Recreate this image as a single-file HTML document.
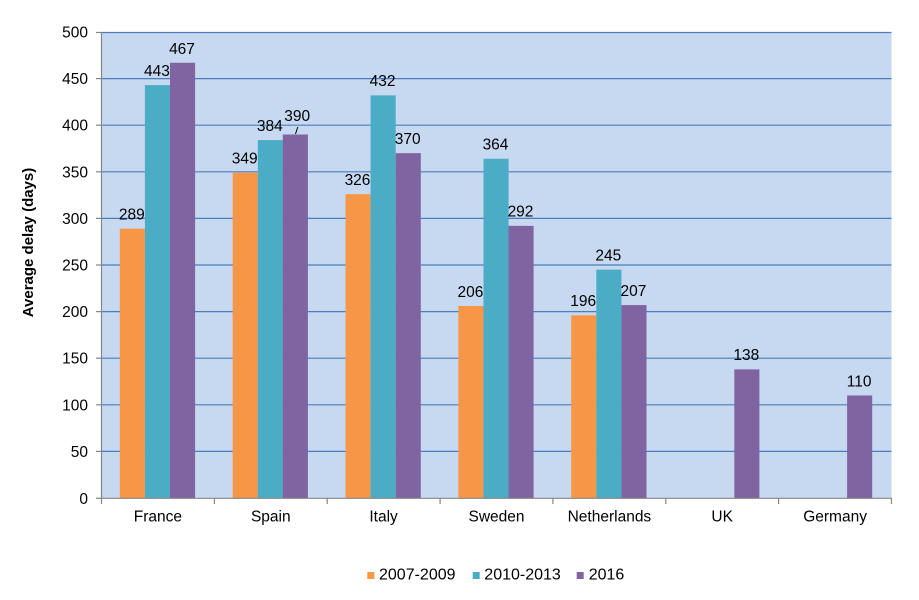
<!DOCTYPE html>
<html>
<head>
<meta charset="utf-8">
<style>
html,body{margin:0;padding:0;background:#fff;}
svg{display:block;}
text{font-family:"Liberation Sans",Arial,sans-serif;fill:#000;}
</style>
</head>
<body>
<svg width="919" height="600" viewBox="0 0 919 600" xmlns="http://www.w3.org/2000/svg">
  <rect x="0" y="0" width="919" height="600" fill="#fff"/>
  <!-- plot area -->
  <rect x="101.5" y="32" width="790" height="466" fill="#c6d9f0"/>
  <!-- gridlines -->
  <g stroke="#4a7ebb" stroke-width="1.2">
    <line x1="101.5" x2="891.5" y1="451.4" y2="451.4"/>
    <line x1="101.5" x2="891.5" y1="404.8" y2="404.8"/>
    <line x1="101.5" x2="891.5" y1="358.2" y2="358.2"/>
    <line x1="101.5" x2="891.5" y1="311.6" y2="311.6"/>
    <line x1="101.5" x2="891.5" y1="265" y2="265"/>
    <line x1="101.5" x2="891.5" y1="218.4" y2="218.4"/>
    <line x1="101.5" x2="891.5" y1="171.8" y2="171.8"/>
    <line x1="101.5" x2="891.5" y1="125.2" y2="125.2"/>
    <line x1="101.5" x2="891.5" y1="78.6" y2="78.6"/>
    <line x1="101.5" x2="891.5" y1="32.5" y2="32.5"/>
  </g>
  <!-- bars -->
  <g>
    <!-- France -->
    <rect x="119.8" y="228.65" width="25.1" height="269.35" fill="#f79646"/>
    <rect x="144.9" y="85.12" width="25.1" height="412.88" fill="#4bacc6"/>
    <rect x="170" y="62.76" width="25.1" height="435.24" fill="#8064a2"/>
    <!-- Spain -->
    <rect x="232.7" y="172.73" width="25.1" height="325.27" fill="#f79646"/>
    <rect x="257.8" y="140.11" width="25.1" height="357.89" fill="#4bacc6"/>
    <rect x="282.8" y="134.52" width="25.1" height="363.48" fill="#8064a2"/>
    <!-- Italy -->
    <rect x="345.5" y="194.17" width="25.1" height="303.83" fill="#f79646"/>
    <rect x="370.6" y="95.38" width="25.1" height="402.62" fill="#4bacc6"/>
    <rect x="395.7" y="153.16" width="25.1" height="344.84" fill="#8064a2"/>
    <!-- Sweden -->
    <rect x="458.4" y="306.01" width="25.1" height="191.99" fill="#f79646"/>
    <rect x="483.5" y="158.75" width="25.1" height="339.25" fill="#4bacc6"/>
    <rect x="508.5" y="225.86" width="25.1" height="272.14" fill="#8064a2"/>
    <!-- Netherlands -->
    <rect x="571.2" y="315.33" width="25.1" height="182.67" fill="#f79646"/>
    <rect x="596.3" y="269.66" width="25.1" height="228.34" fill="#4bacc6"/>
    <rect x="621.4" y="305.08" width="25.1" height="192.92" fill="#8064a2"/>
    <!-- UK -->
    <rect x="734.3" y="369.38" width="25.1" height="128.62" fill="#8064a2"/>
    <!-- Germany -->
    <rect x="847.1" y="395.48" width="25.1" height="102.52" fill="#8064a2"/>
  </g>
  <!-- axes -->
  <g stroke="#868686" stroke-width="1.2">
    <line x1="101.5" x2="101.5" y1="32" y2="498"/>
    <line x1="101" x2="892" y1="498.3" y2="498.3"/>
    <!-- y ticks -->
    <line x1="96" x2="101.5" y1="498.3" y2="498.3"/>
    <line x1="96" x2="101.5" y1="451.4" y2="451.4"/>
    <line x1="96" x2="101.5" y1="404.8" y2="404.8"/>
    <line x1="96" x2="101.5" y1="358.2" y2="358.2"/>
    <line x1="96" x2="101.5" y1="311.6" y2="311.6"/>
    <line x1="96" x2="101.5" y1="265" y2="265"/>
    <line x1="96" x2="101.5" y1="218.4" y2="218.4"/>
    <line x1="96" x2="101.5" y1="171.8" y2="171.8"/>
    <line x1="96" x2="101.5" y1="125.2" y2="125.2"/>
    <line x1="96" x2="101.5" y1="78.6" y2="78.6"/>
    <line x1="96" x2="101.5" y1="32.5" y2="32.5"/>
    <!-- x ticks -->
    <line x1="101.5" x2="101.5" y1="498" y2="504"/>
    <line x1="214.4" x2="214.4" y1="498" y2="504"/>
    <line x1="327.2" x2="327.2" y1="498" y2="504"/>
    <line x1="440.1" x2="440.1" y1="498" y2="504"/>
    <line x1="552.9" x2="552.9" y1="498" y2="504"/>
    <line x1="665.8" x2="665.8" y1="498" y2="504"/>
    <line x1="778.6" x2="778.6" y1="498" y2="504"/>
    <line x1="891.5" x2="891.5" y1="498" y2="504"/>
  </g>
  <!-- y tick labels -->
  <g font-size="15.5" text-anchor="end">
    <text x="88" y="503.8">0</text>
    <text x="88" y="456.9">50</text>
    <text x="88" y="410.3">100</text>
    <text x="88" y="363.7">150</text>
    <text x="88" y="317.1">200</text>
    <text x="88" y="270.5">250</text>
    <text x="88" y="223.9">300</text>
    <text x="88" y="177.3">350</text>
    <text x="88" y="130.7">400</text>
    <text x="88" y="84.1">450</text>
    <text x="88" y="37.5">500</text>
  </g>
  <!-- y title -->
  <text transform="translate(33,242.5) rotate(-90)" font-size="15" font-weight="bold" text-anchor="middle">Average delay (days)</text>
  <!-- x labels -->
  <g font-size="15.5" text-anchor="middle">
    <text x="157.9" y="521.5">France</text>
    <text x="270.8" y="521.5">Spain</text>
    <text x="383.6" y="521.5">Italy</text>
    <text x="496.5" y="521.5">Sweden</text>
    <text x="609.4" y="521.5">Netherlands</text>
    <text x="722.2" y="521.5">UK</text>
    <text x="835.1" y="521.5">Germany</text>
  </g>
  <!-- data labels -->
  <g font-size="15.5" text-anchor="middle">
    <text x="131.8" y="219.5">289</text>
    <text x="156.9" y="75.8">443</text>
    <text x="182" y="53.8">467</text>
    <text x="244.7" y="163.5">349</text>
    <text x="269.8" y="130.9">384</text>
    <text x="297.2" y="121">390</text>
    <text x="357.5" y="185">326</text>
    <text x="382.6" y="86.2">432</text>
    <text x="407.7" y="144">370</text>
    <text x="470.4" y="296.9">206</text>
    <text x="495.5" y="149.6">364</text>
    <text x="520.5" y="216.7">292</text>
    <text x="583.2" y="306.2">196</text>
    <text x="608.3" y="260.5">245</text>
    <text x="633.4" y="296">207</text>
    <text x="746.3" y="360.2">138</text>
    <text x="859.1" y="386.3">110</text>
  </g>
  <!-- leader line for 390 -->
  <line x1="295.5" y1="134" x2="297.8" y2="127" stroke="#000" stroke-width="1"/>
  <!-- legend -->
  <rect x="367.3" y="572" width="7" height="7" fill="#f79646"/>
  <text x="379" y="579.5" font-size="16">2007-2009</text>
  <rect x="472.7" y="572" width="7" height="7" fill="#4bacc6"/>
  <text x="484.3" y="579.5" font-size="16">2010-2013</text>
  <rect x="576.7" y="572" width="7" height="7" fill="#8064a2"/>
  <text x="588.7" y="579.5" font-size="16">2016</text>
</svg>
</body>
</html>
